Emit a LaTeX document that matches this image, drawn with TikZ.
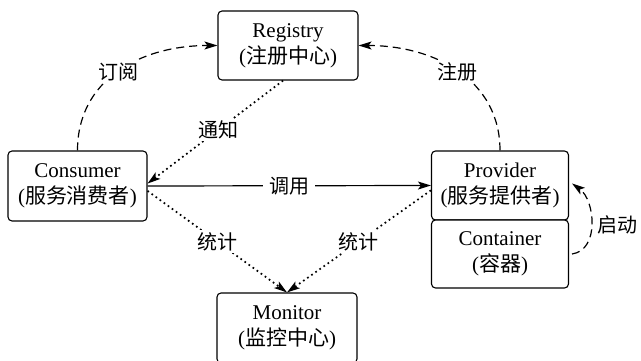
\documentclass[tikz,border=0pt]{standalone}
\usepackage{fontspec}
\setmainfont{Liberation Serif}
\newfontfamily\cjk{Noto Sans CJK SC}
\usetikzlibrary{arrows.meta,calc}
\newcommand{\zh}[1]{{\cjk\fontsize{21}{26}\selectfont #1}}
\tikzset{
  box/.style={draw, line width=1.1pt, rounded corners=4pt, fill=white, align=center,
    font=\fontsize{21}{26}\selectfont, inner sep=0pt},
  conn/.style={line width=1.2pt, -{Stealth[length=13pt,width=8pt,inset=3pt]}},
  dashline/.style={conn, dash pattern=on 8pt off 5pt},
  dotline/.style={conn, line width=1.7pt, dash pattern=on 1.7pt off 3.3pt},
  lbl/.style={fill=white, inner sep=2pt, font=\cjk\fontsize{20}{24}\selectfont}
}
\begin{document}
\begin{tikzpicture}[x=1pt,y=-1pt]
\useasboundingbox (0,0) rectangle (641,361);
\fill[white] (0,0) rectangle (641,361);
\clip (0,0) rectangle (641,361);
% boxes
\node[box, minimum width=140pt, minimum height=69pt] (Registry) at (288,45.5) {Registry\\(\zh{注册中心})};
\node[box, minimum width=139pt, minimum height=70pt] (Consumer) at (77.5,186) {Consumer\\(\zh{服务消费者})};
\node[box, minimum width=137pt, minimum height=69pt] (Provider) at (500,185.5) {Provider\\(\zh{服务提供者})};
\node[box, minimum width=137pt, minimum height=68pt] (Container) at (500,254) {Container\\(\zh{容器})};
\node[box, minimum width=140pt, minimum height=70pt] (Monitor) at (287,328) {Monitor\\(\zh{监控中心})};
% subscribe
\draw[dashline] (Consumer.north) .. controls (77.5,80) and (140,45.5) .. (Registry.west)
  node[lbl, pos=0.5] {订阅};
% register
\draw[dashline] (Provider.north) .. controls (500,80) and (435,45.5) .. (Registry.east)
  node[lbl, pos=0.5] {注册};
% notify
\draw[dotline] (Registry.262) -- (Consumer.2) node[lbl, pos=0.48] {通知};
% invoke
\draw[conn] (Consumer.east) -- (Provider.west) node[lbl, midway, inner sep=6pt] {调用};
% count
\draw[dotline] (Consumer.-4) -- (Monitor.north) node[lbl, midway] {统计};
\draw[dotline] (Provider.184) -- (Monitor.north) node[lbl, midway] {统计};
% start
\coordinate (cstart) at ($(Container.east)+(3,0)$);
\coordinate (pend) at ($(Provider.east)+(3,-2)$);
\draw[dashline] (cstart) .. controls (600,250) and (595,200) .. (pend);
\node[font=\cjk\fontsize{20}{24}\selectfont, anchor=west, inner sep=0pt] (startlbl) at (597,225) {启动};
\end{tikzpicture}
\end{document}
